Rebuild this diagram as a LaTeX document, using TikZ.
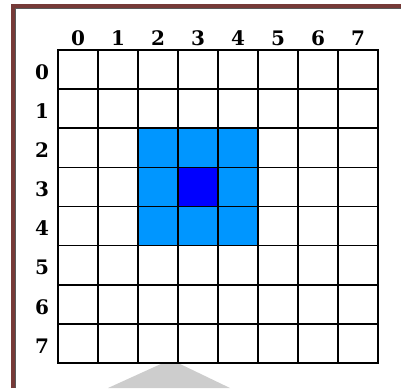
\documentclass[tikz,border=0pt]{standalone}
\usepackage{fontspec}
\newfontfamily\digitfont{DejaVu Serif}
\definecolor{framered}{RGB}{118,58,56}
\definecolor{reachblue}{RGB}{0,150,255}
\definecolor{kingblue}{RGB}{0,0,255}
\definecolor{shadowgray}{RGB}{205,205,205}
\begin{document}
\begin{tikzpicture}[x=1pt, y=-1pt,
    cell/.style={draw=black, line width=1.6pt, fill=#1, minimum width=40pt,
                 minimum height=39.1pt, inner sep=0pt, outer sep=0pt},
    idx/.style={font=\fontsize{20}{20}\selectfont\digitfont\bfseries, inner sep=0pt},
    rim/.style={line width=4pt, draw=framered}
  ]
    \useasboundingbox (0,0) rectangle (401,388);

    % Shadow below the board
    \fill[shadowgray] (163,363) -- (178,363) -- (230,388) -- (108,388) -- cycle;

    % Window frame
    \draw[rim] (12.5,388) -- (12.5,6) -- (401,6);
    \draw[line width=0.8pt, black!65] (15.2,388) -- (15.2,8.7) -- (401,8.7);

    % Board
    \foreach \r in {0,...,7}
      \foreach \c in {0,...,7} {
        \pgfmathtruncatemacro\d{max(abs(\r-3),abs(\c-3))}
        \ifnum\d=0 \def\col{kingblue}\else\ifnum\d=1 \def\col{reachblue}\else\def\col{white}\fi\fi
        \node[cell=\col] (sq-\r-\c) at ({78+40*\c},{69.56+39.125*\r}) {};
      }

    % Column and row numbers
    \foreach \c in {0,...,7}
      \node[idx] (col-\c) at ({78+40*\c},38) {\c};
    \foreach \r in {0,...,7}
      \node[idx] (row-\r) at (42,{72+39.125*\r}) {\r};

  \end{tikzpicture}
\end{document}
